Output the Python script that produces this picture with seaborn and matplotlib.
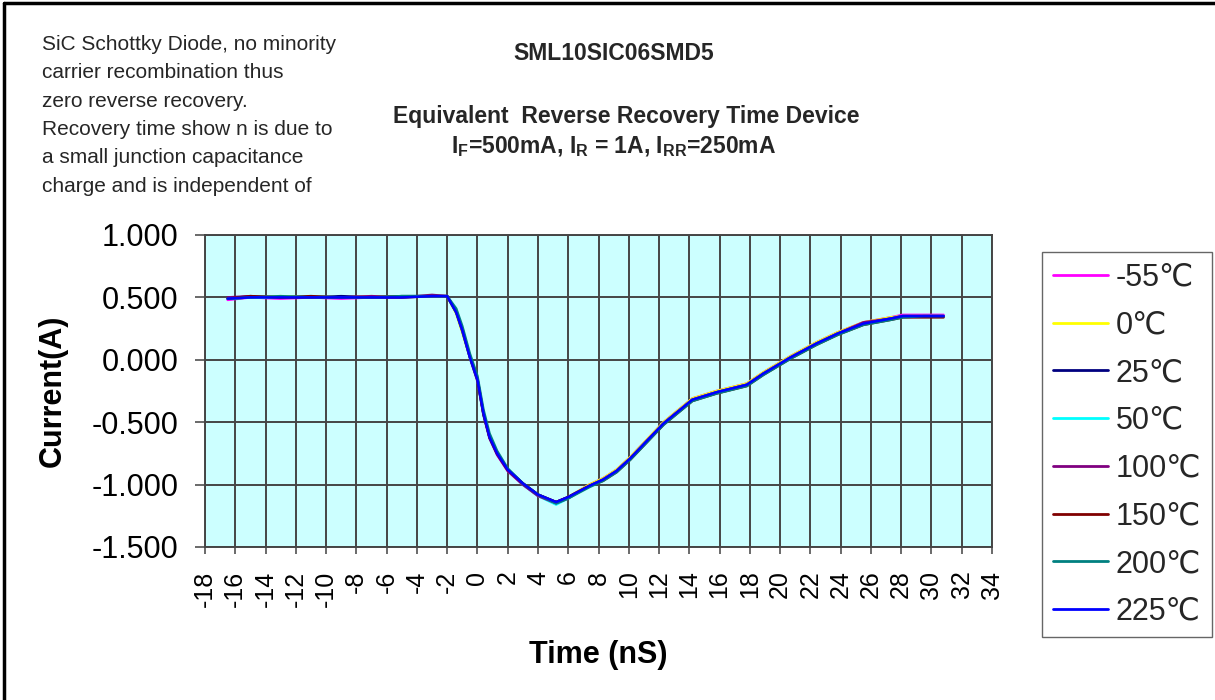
import pandas as pd
import matplotlib.pyplot as plt
import seaborn as sns
from matplotlib.lines import Line2D
from matplotlib.ticker import FormatStrFormatter

# tempo comum (nS) para todas as curvas
time_ns = [-16.5, -15, -13, -11, -9, -7, -5, -3, -2, -1.4, -1.0, -0.5, 0, 0.4, 0.8, 1.3,
           2.0, 3.0, 4.0, 5.2, 6.0, 7.4, 8.3, 9.2, 10.1, 11.2, 12.3, 13.3, 14.2, 15.8,
           17.8, 18.9, 20.7, 22.4, 23.8, 25.5, 27.3, 28.1, 29.5, 30.8]

i_m55 = [0.48, 0.50, 0.49, 0.50, 0.49, 0.50, 0.50, 0.51, 0.51, 0.38, 0.24, 0.03, -0.15, -0.42, -0.62, -0.76,
         -0.89, -1.00, -1.09, -1.14, -1.10, -1.00, -0.95, -0.88, -0.78, -0.64, -0.50, -0.40, -0.31, -0.25,
         -0.19, -0.10, 0.03, 0.14, 0.22, 0.30, 0.34, 0.36, 0.36, 0.36]
i_0 = [0.49, 0.50, 0.51, 0.50, 0.50, 0.51, 0.50, 0.51, 0.51, 0.37, 0.22, 0.02, -0.16, -0.43, -0.61, -0.75,
       -0.88, -0.99, -1.08, -1.15, -1.10, -1.00, -0.95, -0.88, -0.78, -0.64, -0.50, -0.40, -0.31, -0.25,
       -0.19, -0.10, 0.03, 0.14, 0.22, 0.30, 0.34, 0.35, 0.35, 0.35]
i_25 = [0.49, 0.50, 0.50, 0.50, 0.51, 0.50, 0.50, 0.51, 0.51, 0.38, 0.23, 0.02, -0.16, -0.44, -0.62, -0.75,
        -0.88, -0.99, -1.08, -1.14, -1.10, -1.01, -0.96, -0.89, -0.79, -0.65, -0.51, -0.41, -0.32, -0.26,
        -0.20, -0.11, 0.02, 0.13, 0.21, 0.29, 0.33, 0.35, 0.35, 0.35]
i_50 = [0.49, 0.50, 0.50, 0.51, 0.50, 0.50, 0.51, 0.51, 0.51, 0.38, 0.24, 0.02, -0.16, -0.43, -0.62, -0.75,
        -0.88, -1.00, -1.09, -1.16, -1.11, -1.01, -0.96, -0.89, -0.79, -0.65, -0.51, -0.41, -0.32, -0.26,
        -0.20, -0.11, 0.02, 0.13, 0.21, 0.29, 0.33, 0.35, 0.35, 0.35]
i_100 = [0.50, 0.51, 0.50, 0.50, 0.50, 0.51, 0.50, 0.52, 0.51, 0.38, 0.24, 0.02, -0.17, -0.44, -0.63, -0.76,
         -0.89, -1.00, -1.09, -1.15, -1.11, -1.01, -0.96, -0.89, -0.79, -0.65, -0.51, -0.41, -0.32, -0.26,
         -0.20, -0.11, 0.02, 0.13, 0.21, 0.30, 0.33, 0.35, 0.35, 0.35]
i_150 = [0.49, 0.51, 0.50, 0.51, 0.50, 0.50, 0.51, 0.51, 0.51, 0.39, 0.25, 0.03, -0.15, -0.43, -0.62, -0.75,
         -0.88, -0.99, -1.08, -1.14, -1.10, -1.01, -0.97, -0.90, -0.80, -0.66, -0.52, -0.42, -0.33, -0.27,
         -0.21, -0.12, 0.01, 0.12, 0.20, 0.28, 0.32, 0.34, 0.34, 0.34]
i_200 = [0.49, 0.50, 0.51, 0.50, 0.50, 0.50, 0.51, 0.51, 0.51, 0.41, 0.27, 0.05, -0.13, -0.40, -0.59, -0.73,
         -0.87, -0.99, -1.08, -1.15, -1.11, -1.02, -0.97, -0.90, -0.80, -0.66, -0.52, -0.42, -0.33, -0.27,
         -0.21, -0.12, 0.01, 0.12, 0.20, 0.28, 0.32, 0.34, 0.35, 0.35]
i_225 = [0.49, 0.50, 0.50, 0.50, 0.50, 0.50, 0.50, 0.51, 0.51, 0.38, 0.24, 0.02, -0.16, -0.43, -0.62, -0.75,
         -0.88, -0.99, -1.08, -1.14, -1.10, -1.01, -0.96, -0.89, -0.79, -0.65, -0.51, -0.41, -0.32, -0.26,
         -0.20, -0.11, 0.02, 0.13, 0.21, 0.29, 0.33, 0.35, 0.35, 0.35]

temperaturas = ['-55℃', '0℃', '25℃', '50℃', '100℃', '150℃', '200℃', '225℃']
series = [i_m55, i_0, i_25, i_50, i_100, i_150, i_200, i_225]
cores = ['#FF00FF', '#FFFF00', '#000080', '#00FFFF', '#800080', '#800000', '#008080', '#0000FF']

x_ticks = list(range(-18, 35, 2))
y_ticks = [1.0, 0.5, 0.0, -0.5, -1.0, -1.5]

texto_nota = ['SiC Schottky Diode, no minority',
              'carrier recombination thus',
              'zero reverse recovery.',
              'Recovery time show n is due to',
              'a small junction capacitance',
              'charge and is independent of']

# monta tabela longa para o seaborn
linhas = []
for temp, valores in zip(temperaturas, series):
    for t, v in zip(time_ns, valores):
        linhas.append({'Time': t, 'Current': v, 'Temp': temp})
df = pd.DataFrame(linhas)

sns.set_theme(style='white')
plt.rcParams['font.family'] = ['Liberation Sans', 'DejaVu Sans']
plt.rcParams['axes.unicode_minus'] = False
plt.rcParams['mathtext.fontset'] = 'custom'
plt.rcParams['mathtext.rm'] = 'Liberation Sans'
plt.rcParams['mathtext.bf'] = 'Liberation Sans:bold'

fig = plt.figure(figsize=(12.15, 7.0), dpi=100)
ax = fig.add_axes([205 / 1215, 1 - 547 / 700, 787 / 1215, 312 / 700])
ax.set_facecolor('#CCFFFF')

paleta = dict(zip(temperaturas, cores))
sns.lineplot(data=df, x='Time', y='Current', hue='Temp', hue_order=temperaturas,
             palette=paleta, estimator=None, sort=False, linewidth=1.8, legend=False, ax=ax)

ax.set_xlim(-18, 34)
ax.set_ylim(-1.5, 1.0)
ax.set_xticks(x_ticks)
ax.set_xticklabels([str(v) for v in x_ticks], rotation=90)
ax.set_yticks(y_ticks)
ax.yaxis.set_major_formatter(FormatStrFormatter('%.3f'))
ax.grid(True, color='#454545', linewidth=1.4)
ax.set_axisbelow(True)
for s in ax.spines.values():
    s.set_color('#454545')
    s.set_linewidth(1.4)
ax.tick_params(axis='y', which='major', left=True, length=7, width=1.2, color='#505050',
               labelsize=22, pad=12, labelcolor='black')
ax.tick_params(axis='x', which='major', bottom=True, length=5, width=1.2, color='#505050',
               labelsize=18, pad=12, labelcolor='black')

ax.set_ylabel('Current(A)', fontsize=22, fontweight='bold', color='black')
ax.yaxis.set_label_coords(-0.174, 0.5)
ax.set_xlabel('Time (nS)', fontsize=22, fontweight='bold', color='black', va='center')
ax.xaxis.set_label_coords(0.5, -0.346)

# legenda manual
handles = [Line2D([0], [0], color=c, lw=2) for c in cores]
leg = ax.legend(handles, temperaturas, loc='upper left', bbox_to_anchor=(1042 / 1215, 1 - 252 / 700),
                bbox_transform=fig.transFigure, fontsize=22, frameon=True, fancybox=False,
                handlelength=1.8, handletextpad=0.25, labelspacing=0.58, borderpad=0.35,
                borderaxespad=0)
leg.get_frame().set_edgecolor('#404040')
leg.get_frame().set_linewidth(1.0)

# títulos
fig.text(614 / 1215, 1 - 54 / 700, 'SML10SIC06SMD5', ha='center', va='center',
         fontsize=16.5, fontweight='bold')
fig.text(626 / 1215, 1 - 116 / 700, 'Equivalent  Reverse Recovery Time Device', ha='center', va='center',
         fontsize=16.5, fontweight='bold')
fig.text(614 / 1215, 1 - 147 / 700,
         r'I$_{\mathbf{F}}$=500mA, I$_{\mathbf{R}}$ = 1A, I$_{\mathbf{RR}}$=250mA',
         ha='center', va='center', fontsize=16.5, fontweight='bold')

# nota no canto
for k, linha in enumerate(texto_nota):
    fig.text(42 / 1215, 1 - (50 + 28.3 * k) / 700, linha, ha='left', va='baseline', fontsize=15)

# moldura parcial da figura
fig.add_artist(Line2D([0.003, 0.003], [0, 0.996], transform=fig.transFigure, color='black', lw=2.5))
fig.add_artist(Line2D([0.003, 1], [0.996, 0.996], transform=fig.transFigure, color='black', lw=2.5))

fig.savefig('out.png', dpi=100)
